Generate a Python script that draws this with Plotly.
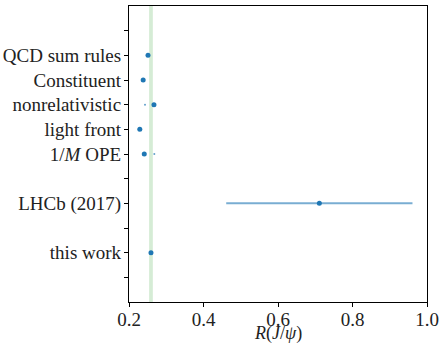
import plotly.graph_objects as go

labels = ["QCD sum rules", "Constituent", "nonrelativistic", "light front", "1/<i>M</i> OPE", "LHCb (2017)", "this work"]
ypos = [9, 8, 7, 6, 5, 3, 1]
values = [0.251, 0.238, 0.267, 0.229, 0.241, 0.711, 0.259]
errors = [0, 0, 0, 0, 0, 0.25, 0]
# faint secondary points
extra_x = [0.243, 0.268]
extra_y = [7, 5]
band = [0.254, 0.264]
tickvals = list(range(0, 11))
ticktext = ["" for _ in tickvals]
for lab, p in zip(labels, ypos):
    ticktext[p] = lab

fig = go.Figure()
fig.add_vrect(x0=band[0], x1=band[1], fillcolor="rgba(44,160,44,0.2)", line_width=0, layer="below")
fig.add_trace(go.Scatter(
    x=values, y=ypos, mode="markers",
    marker=dict(color="#1f77b4", size=5),
    error_x=dict(type="data", array=errors, color="rgba(31,119,180,0.6)", thickness=2, width=0),
    showlegend=False,
))
fig.add_trace(go.Scatter(
    x=extra_x, y=extra_y, mode="markers",
    marker=dict(color="rgba(31,119,180,0.7)", size=2),
    showlegend=False,
))
font = dict(family="Liberation Serif, DejaVu Serif, serif", size=19, color="#222")
fig.update_layout(
    width=439, height=344,
    margin=dict(l=129, r=12, t=6, b=42, autoexpand=False),
    plot_bgcolor="white", paper_bgcolor="white",
    font=font,
)
fig.add_annotation(
    text="<i>R</i>(<i>J</i>/<i>ψ</i>)", xref="paper", yref="paper",
    x=0.5, y=-0.108, xanchor="center", yanchor="middle", showarrow=False,
    font=dict(family="Liberation Serif, DejaVu Serif, serif", size=18, color="#222"),
)
fig.update_xaxes(
    range=[0.2, 1.0], tickvals=[0.2, 0.4, 0.6, 0.8, 1.0], ticktext=["0.2", "0.4", "0.6", "0.8", "1.0"],
    showline=True, linecolor="black", linewidth=1.2, mirror=True, automargin=False,
    ticks="outside", ticklen=4, tickcolor="black", showgrid=False, zeroline=False,
    ticklabelstandoff=-4,
)
fig.update_yaxes(
    range=[-1, 11], tickvals=tickvals, ticktext=ticktext, automargin=False,
    showline=True, linecolor="black", linewidth=1.2, mirror=True,
    ticks="outside", ticklen=4, tickcolor="black", showgrid=False, zeroline=False,
    ticklabelstandoff=-1,
)
fig.write_html(
    "out.html",
    config={"displayModeBar": False},
    post_script="document.body.style.margin='0';document.body.style.padding='0';document.body.style.overflow='hidden';",
)
